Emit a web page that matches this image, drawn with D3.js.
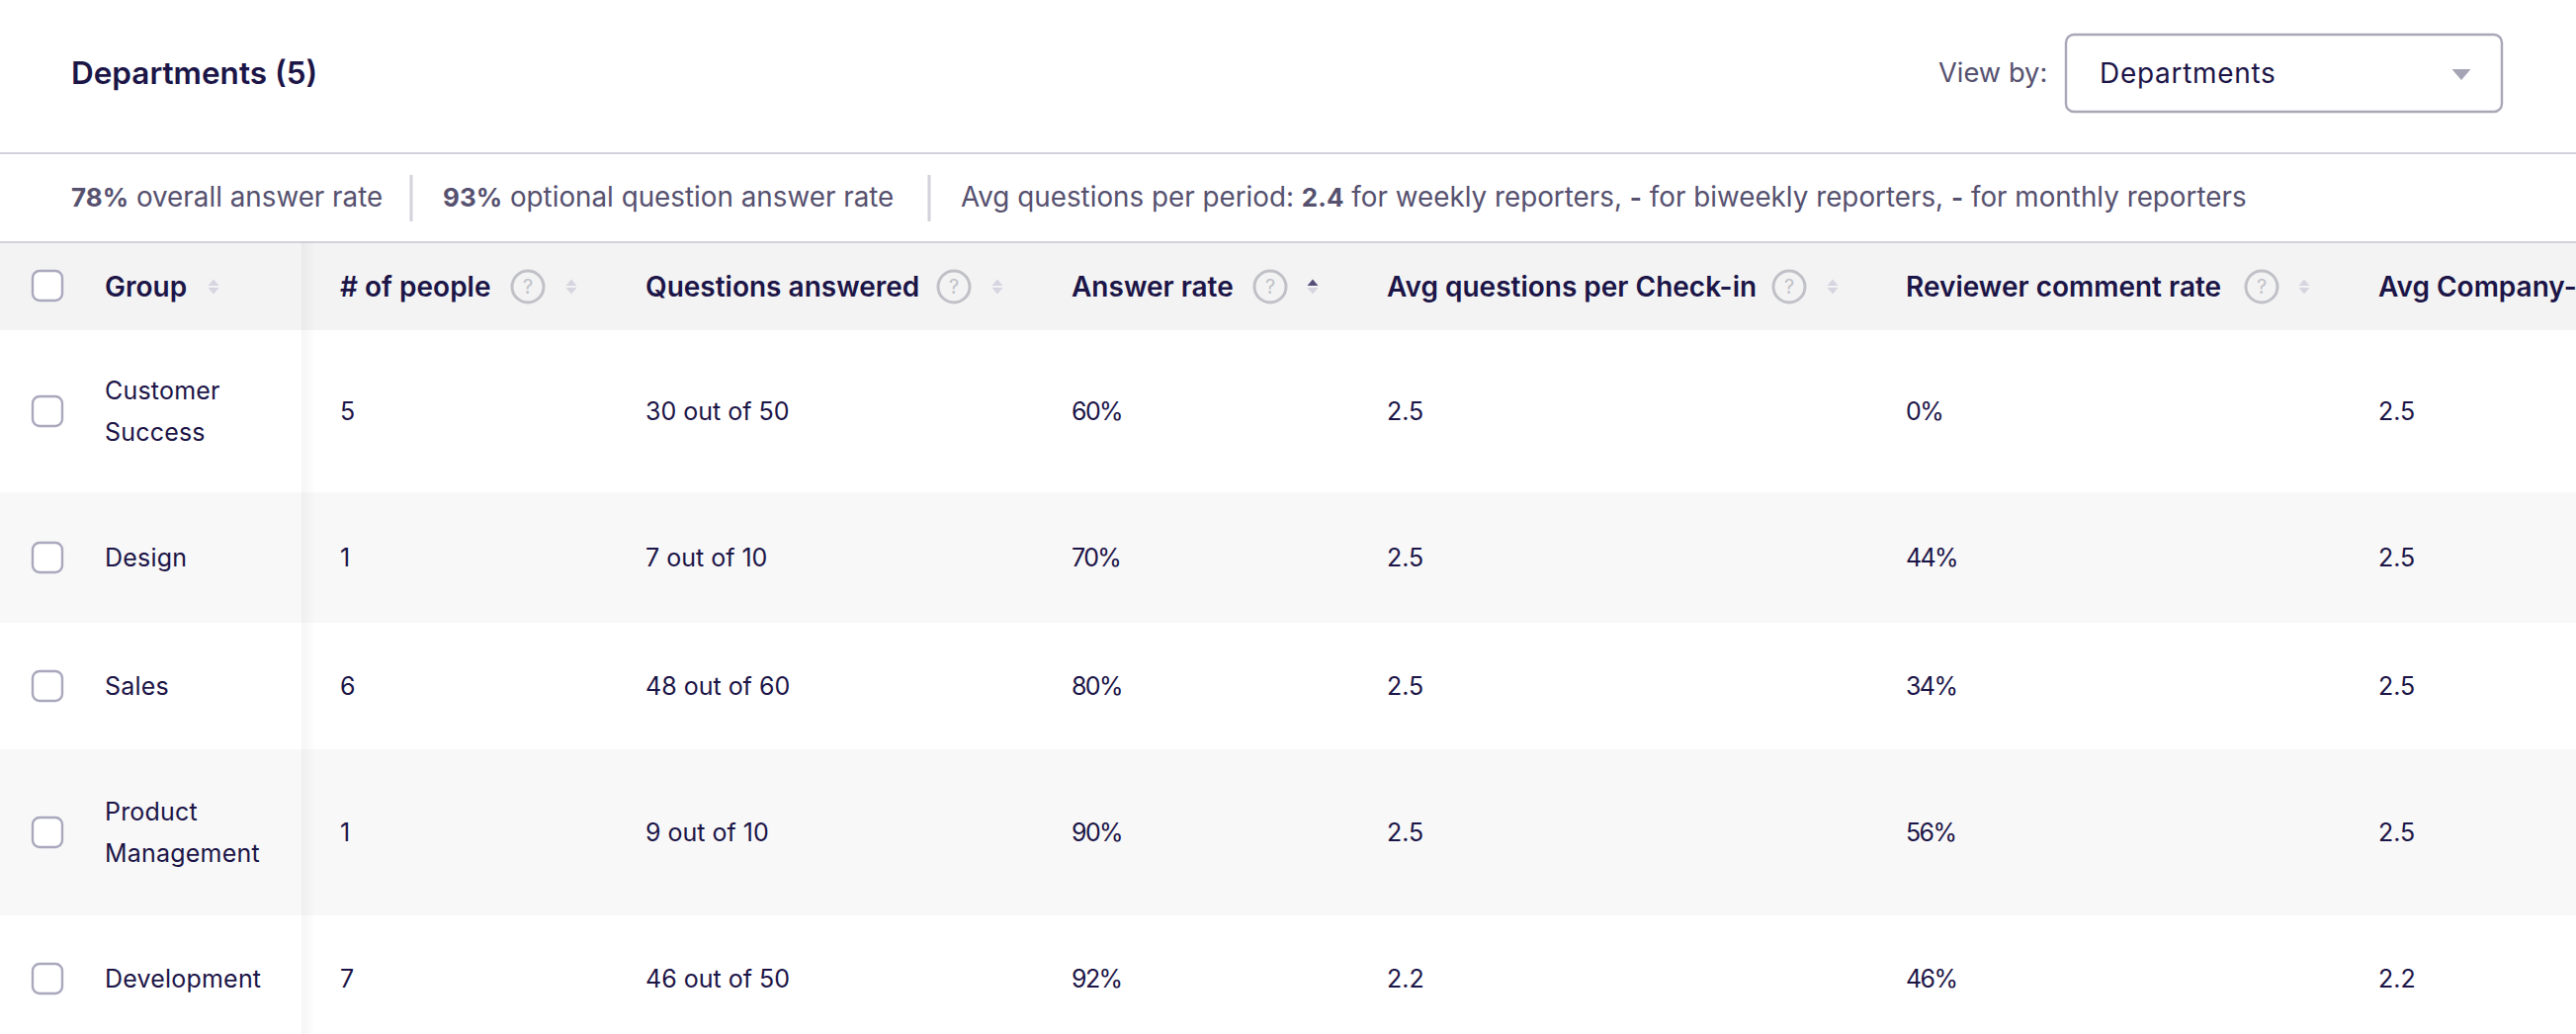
<!DOCTYPE html>
<html>
<head>
<meta charset="utf-8">
<script src="https://cdn.jsdelivr.net/npm/d3@7"></script>
<style>
  html, body { margin: 0; padding: 0; background: #fff; overflow: hidden; }
  text { font-family: "Inter", "Lato", sans-serif; }
</style>
</head>
<body>
<svg id="table"></svg>
<script>
const groups = [["Customer", "Success"], ["Design"], ["Sales"], ["Product", "Management"], ["Development"]];
const people = [5, 1, 6, 1, 7];
const answered = [30, 7, 48, 9, 46];
const possible = [50, 10, 60, 10, 50];
const answerRate = [60, 70, 80, 90, 92];
const avgQuestions = [2.5, 2.5, 2.5, 2.5, 2.2];
const commentRate = [0, 44, 34, 56, 46];
const avgCompany = [2.5, 2.5, 2.5, 2.5, 2.2];

const columns = ["# of people", "Questions answered", "Answer rate", "Avg questions per Check-in", "Reviewer comment rate", "Avg Company-"];
const statsRuns = [
    [["78%", true], [" overall answer rate", false]],
    [["93%", true], [" optional question answer rate", false]],
    [["Avg questions per period: ", false], ["2.4", true], [" for weekly reporters, ", false], ["-", true], [" for biweekly reporters, ", false], ["-", true], [" for monthly reporters", false]]
];

const width = 2606, height = 1046;
const dark = "#1c1547", grey = "#56516f", line = "#d3d2dc";

const colX = d3.scaleOrdinal(columns, [344, 653, 1084, 1403, 1928, 2406]);
const helpX = d3.scaleOrdinal(columns, [534, 965, 1285, 1810, 2288, -100]);
const sortX = d3.scaleOrdinal(columns, [578, 1009, 1328, 1854, 2331, -100]);

// row edges, they are not quite regular
const rowEdges = [334, 498, 630, 758, 926, 1054];
const rowY = i => rowEdges[i];
const rowH = i => rowEdges[i + 1] - rowEdges[i];
const rowMid = i => rowY(i) + rowH(i) / 2;

const svg = d3.select("#table").attr("width", width).attr("height", height).style("display", "block");

const defs = svg.append("defs");
const grad = defs.append("linearGradient").attr("id", "fixedShadow");
grad.append("stop").attr("offset", 0).attr("stop-color", "#000").attr("stop-opacity", 0.04);
grad.append("stop").attr("offset", 1).attr("stop-color", "#000").attr("stop-opacity", 0);

function checkbox(cy) {
    svg.append("rect")
        .attr("x", 33).attr("y", cy - 15).attr("width", 30).attr("height", 30).attr("rx", 7)
        .attr("fill", "#fff").attr("stroke", "#a9a8bd").attr("stroke-width", 2.4);
}

function triangle(x, tipY, baseY, halfW) {
    const p = d3.path();
    p.moveTo(x, tipY);
    p.lineTo(x + halfW, baseY);
    p.lineTo(x - halfW, baseY);
    p.closePath();
    return p.toString();
}

function sortArrows(x, cy, active) {
    svg.append("path").attr("d", triangle(x, cy - 7.5, cy - 1, 5.5))
        .attr("fill", active ? "#565078" : "#d6d5e0");
    svg.append("path").attr("d", triangle(x, cy + 7.5, cy + 1, 5.5))
        .attr("fill", "#d6d5e0");
}

// title bar
svg.append("text").attr("x", 72).attr("y", 85).attr("font-size", 31.5).attr("font-weight", 600)
    .attr("fill", dark).text("Departments (5)");
svg.append("text").attr("x", 1961).attr("y", 83).attr("font-size", 27.3).attr("fill", grey).text("View by:");
svg.append("rect").attr("x", 2090).attr("y", 35).attr("width", 441).attr("height", 78).attr("rx", 8)
    .attr("fill", "#fff").attr("stroke", "#a8a7b8").attr("stroke-width", 2.4);
svg.append("text").attr("x", 2124).attr("y", 84).attr("font-size", 28).attr("letter-spacing", 0.7)
    .attr("fill", dark).text("Departments");
svg.append("path").attr("d", triangle(2490, 81, 70, 9.5)).attr("fill", "#a5a4b5");

svg.append("rect").attr("x", 0).attr("y", 154).attr("width", width).attr("height", 2).attr("fill", line);

// stats line
const statsX = [72, 448, 972];
statsRuns.forEach((runs, i) => {
    const t = svg.append("text").attr("x", statsX[i]).attr("y", 209).attr("fill", grey);
    runs.forEach(r => t.append("tspan")
        .attr("font-size", r[1] ? 26 : 27.8)
        .attr("font-weight", r[1] ? 700 : 400)
        .text(r[0]));
});
[416, 940].forEach(x => {
    svg.append("rect").attr("x", x - 1.5).attr("y", 177).attr("width", 3).attr("height", 47).attr("fill", line);
});

// header
svg.append("rect").attr("x", 0).attr("y", 245).attr("width", width).attr("height", 89).attr("fill", "#f3f3f4");
svg.append("rect").attr("x", 0).attr("y", 244).attr("width", width).attr("height", 2).attr("fill", line);

// rows
svg.selectAll("rect.row").data(groups).enter().append("rect")
    .attr("class", "row")
    .attr("x", 0).attr("y", (d, i) => rowY(i))
    .attr("width", width).attr("height", (d, i) => rowH(i))
    .attr("fill", (d, i) => i % 2 ? "#f8f8f8" : "#fff");

svg.append("rect").attr("x", 305).attr("y", 245).attr("width", 15).attr("height", height - 245).attr("fill", "url(#fixedShadow)");

checkbox(289);
svg.append("text").attr("x", 106).attr("y", 300).attr("font-size", 28).attr("font-weight", 600).attr("fill", dark).text("Group");
sortArrows(216, 290, false);

columns.forEach(c => {
    svg.append("text").attr("x", colX(c)).attr("y", 300).attr("font-size", 28).attr("font-weight", 600)
        .attr("fill", dark).text(c);
    if (helpX(c) < 0) return;
    svg.append("circle").attr("cx", helpX(c)).attr("cy", 290).attr("r", 16)
        .attr("fill", "none").attr("stroke", "#c0c1c7").attr("stroke-width", 3);
    svg.append("text").attr("x", helpX(c)).attr("y", 297).attr("text-anchor", "middle")
        .attr("font-size", 20).attr("fill", "#c0c1c7").text("?");
    sortArrows(sortX(c), 290, c === "Answer rate");
});

const rowText = [
    i => people[i],
    i => answered[i] + " out of " + possible[i],
    i => answerRate[i] + "%",
    i => avgQuestions[i].toFixed(1),
    i => commentRate[i] + "%",
    i => avgCompany[i].toFixed(1)
];
const tightColumns = ["Answer rate", "Reviewer comment rate"];

groups.forEach((g, i) => {
    const mid = rowMid(i);
    checkbox(mid);
    g.forEach((l, k) => {
        svg.append("text").attr("x", 106).attr("y", mid + 9 + (k - (g.length - 1) / 2) * 42)
            .attr("font-size", 25).attr("letter-spacing", 0.2).attr("fill", dark).text(l);
    });
    columns.forEach((c, j) => {
        svg.append("text").attr("x", colX(c)).attr("y", mid + 9)
            .attr("font-size", 25).attr("letter-spacing", tightColumns.includes(c) ? -1.6 : 0)
            .attr("fill", dark).text(rowText[j](i));
    });
});
</script>
</body>
</html>
